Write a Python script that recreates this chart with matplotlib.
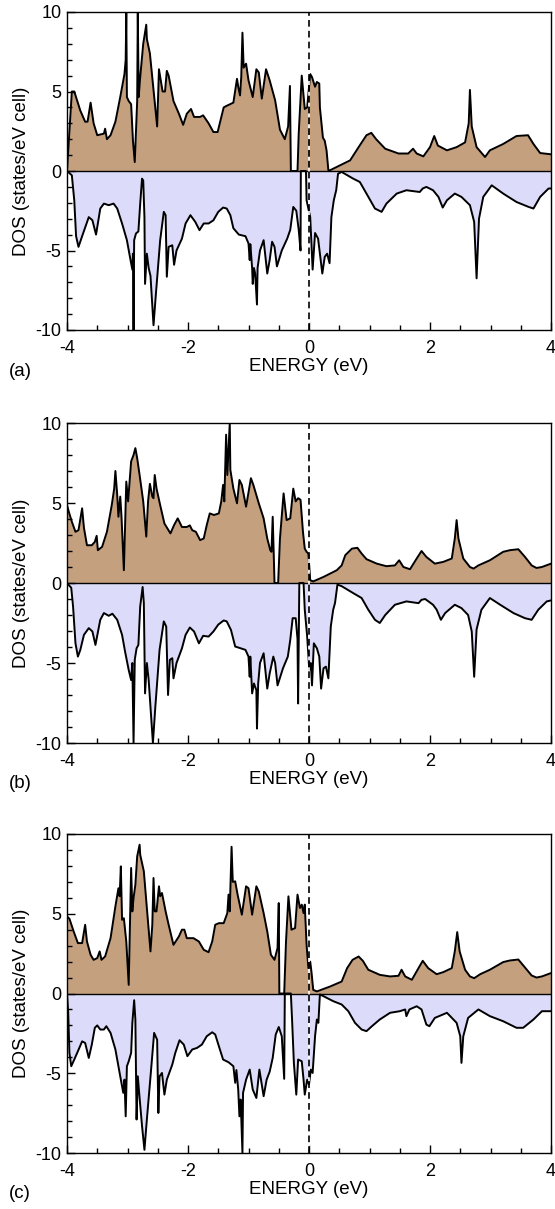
import numpy as np
import matplotlib
matplotlib.use('Agg')
import matplotlib.pyplot as plt
from matplotlib.ticker import MultipleLocator

plt.rcParams['font.family'] = ['Liberation Sans', 'DejaVu Sans']
plt.rcParams['axes.unicode_minus'] = False

# (energy eV, DOS states/eV cell) for each panel, majority (up) and minority (down) spin
a_up = [(-4.00, 0.0), (-3.96, 2.5), (-3.92, 5.0), (-3.88, 5.0), (-3.78, 3.8), (-3.70, 3.1),
        (-3.66, 3.1), (-3.61, 4.3), (-3.56, 3.0), (-3.50, 2.25), (-3.39, 2.35), (-3.37, 2.66),
        (-3.34, 2.0), (-3.28, 2.25), (-3.20, 3.1), (-3.12, 4.65), (-3.05, 6.1), (-3.03, 7.0),
        (-3.02, 10.0), (-3.01, 4.65), (-2.98, 4.4), (-2.94, 4.2), (-2.91, 1.9), (-2.88, 0.56),
        (-2.84, 4.4), (-2.83, 10.0), (-2.815, 4.65), (-2.79, 5.9), (-2.74, 8.0), (-2.69, 9.2),
        (-2.68, 8.3), (-2.63, 7.4), (-2.57, 5.1), (-2.51, 2.8), (-2.48, 6.4), (-2.45, 5.7),
        (-2.42, 5.0), (-2.38, 5.0), (-2.35, 6.3), (-2.32, 6.0), (-2.24, 4.4), (-2.15, 3.6),
        (-2.08, 2.9), (-2.02, 3.6), (-1.95, 3.9), (-1.90, 3.4), (-1.80, 3.4), (-1.75, 3.5),
        (-1.66, 3.0), (-1.58, 2.45), (-1.51, 2.45), (-1.41, 4.0), (-1.36, 4.1), (-1.25, 4.3),
        (-1.19, 5.8), (-1.17, 5.3), (-1.14, 4.75), (-1.12, 5.9), (-1.10, 8.7), (-1.08, 6.5),
        (-1.04, 6.75), (-1.00, 5.7), (-0.93, 4.65), (-0.87, 6.4), (-0.83, 6.2), (-0.78, 4.55),
        (-0.71, 6.4), (-0.65, 5.7), (-0.56, 4.45), (-0.48, 2.6), (-0.40, 2.0), (-0.345, 2.8),
        (-0.315, 5.35), (-0.30, 0.0), (-0.19, 0.0), (-0.17, 2.35), (-0.12, 6.0), (-0.07, 3.9),
        (-0.03, 4.0), (0.02, 6.1), (0.05, 5.9), (0.10, 5.3), (0.13, 5.6), (0.17, 5.5),
        (0.18, 4.0), (0.23, 2.1), (0.26, 1.9), (0.29, 1.3), (0.32, 0.05), (0.35, 0.05),
        (0.68, 0.67), (0.82, 1.5), (0.95, 2.25), (1.03, 2.4), (1.11, 2.0), (1.26, 1.4),
        (1.48, 1.1), (1.64, 1.1), (1.72, 1.4), (1.78, 1.1), (1.89, 0.92), (2.00, 1.5),
        (2.07, 2.2), (2.13, 1.6), (2.28, 1.3), (2.44, 1.5), (2.58, 1.8), (2.64, 3.0),
        (2.66, 5.1), (2.69, 2.8), (2.77, 1.5), (2.91, 0.88), (2.99, 1.3), (3.21, 1.7),
        (3.43, 2.2), (3.62, 2.25), (3.71, 1.7), (3.82, 1.13), (4.00, 1.05)]

a_dn = [(-4.00, 0.0), (-3.92, -0.27), (-3.88, -1.84), (-3.85, -4.1), (-3.81, -4.77), (-3.75, -4.1),
        (-3.64, -2.9), (-3.58, -3.1), (-3.52, -4.0), (-3.45, -2.36), (-3.39, -2.05), (-3.31, -2.15),
        (-3.23, -2.05), (-3.17, -2.36), (-3.09, -3.3), (-3.01, -4.35), (-2.95, -5.6), (-2.92, -6.2),
        (-2.91, -5.2), (-2.90, -10.0), (-2.89, -4.35), (-2.86, -3.93), (-2.82, -3.8), (-2.79, -2.05),
        (-2.76, -0.48), (-2.74, -0.6), (-2.72, -2.9), (-2.71, -7.1), (-2.68, -5.2), (-2.65, -6.1),
        (-2.62, -6.6), (-2.57, -9.7), (-2.53, -7.7), (-2.46, -4.35), (-2.40, -2.57), (-2.37, -2.78),
        (-2.35, -6.65), (-2.32, -4.77), (-2.26, -4.67), (-2.23, -5.9), (-2.19, -5.0), (-2.10, -4.25),
        (-2.04, -3.3), (-1.96, -2.78), (-1.88, -3.2), (-1.81, -3.72), (-1.74, -3.3), (-1.66, -3.3),
        (-1.58, -3.1), (-1.50, -2.57), (-1.42, -2.3), (-1.36, -2.36), (-1.30, -2.78), (-1.25, -3.6),
        (-1.16, -4.0), (-1.05, -4.1), (-1.00, -4.56), (-0.98, -5.6), (-0.97, -4.6), (-0.94, -6.1),
        (-0.93, -7.1), (-0.91, -6.1), (-0.89, -6.45), (-0.86, -8.4), (-0.85, -6.1), (-0.81, -5.0),
        (-0.75, -4.35), (-0.69, -6.45), (-0.65, -5.6), (-0.61, -4.45), (-0.57, -4.77), (-0.53, -6.0),
        (-0.45, -5.0), (-0.36, -4.25), (-0.31, -3.7), (-0.26, -2.26), (-0.21, -2.5), (-0.17, -3.7),
        (-0.14, -5.0), (-0.135, 0.0), (-0.05, 0.0), (-0.04, -1.84), (0.02, -2.9), (0.06, -6.2),
        (0.10, -3.9), (0.15, -4.25), (0.22, -6.45), (0.26, -5.4), (0.30, -5.2), (0.34, -5.8),
        (0.37, -2.9), (0.41, -1.84), (0.45, -1.2), (0.48, -0.17), (0.54, -0.06), (0.73, -0.48),
        (0.84, -0.69), (0.95, -1.42), (1.09, -2.36), (1.20, -2.57), (1.28, -2.05), (1.45, -1.42),
        (1.61, -1.21), (1.83, -1.32), (1.88, -1.1), (1.94, -1.0), (2.05, -1.21), (2.14, -1.63),
        (2.21, -2.3), (2.28, -1.84), (2.41, -1.42), (2.52, -1.63), (2.66, -2.15), (2.73, -3.2),
        (2.77, -6.75), (2.81, -3.0), (2.88, -1.63), (3.02, -0.9), (3.21, -1.42), (3.43, -1.95),
        (3.63, -2.26), (3.71, -2.36), (3.82, -1.63), (3.96, -1.1), (4.00, -1.1)]

b_up = [(-4.00, 4.87), (-3.97, 4.45), (-3.92, 3.83), (-3.86, 3.2), (-3.81, 3.3), (-3.75, 4.67),
        (-3.72, 3.45), (-3.67, 2.36), (-3.59, 2.36), (-3.54, 2.57), (-3.51, 2.95), (-3.49, 2.05),
        (-3.42, 2.26), (-3.34, 3.2), (-3.26, 4.87), (-3.22, 5.9), (-3.20, 7.0), (-3.17, 5.5),
        (-3.15, 4.14), (-3.12, 5.4), (-3.10, 4.2), (-3.06, 0.8), (-3.02, 6.34), (-2.99, 5.1),
        (-2.97, 6.1), (-2.94, 7.6), (-2.90, 8.0), (-2.87, 8.43), (-2.84, 7.8), (-2.80, 6.75),
        (-2.74, 5.1), (-2.69, 2.9), (-2.66, 5.1), (-2.63, 6.2), (-2.59, 5.4), (-2.57, 5.3),
        (-2.55, 6.75), (-2.52, 5.9), (-2.46, 4.87), (-2.39, 3.72), (-2.29, 3.1), (-2.23, 3.62),
        (-2.17, 4.04), (-2.10, 3.5), (-2.02, 3.5), (-1.97, 3.6), (-1.93, 3.3), (-1.87, 3.2),
        (-1.80, 2.68), (-1.74, 2.78), (-1.69, 3.62), (-1.64, 4.35), (-1.57, 4.25), (-1.49, 4.35),
        (-1.45, 5.1), (-1.42, 6.13), (-1.40, 5.1), (-1.37, 9.27), (-1.35, 6.75), (-1.31, 10.0),
        (-1.30, 7.07), (-1.25, 5.9), (-1.19, 4.98), (-1.15, 6.44), (-1.11, 6.13), (-1.04, 4.77),
        (-0.96, 6.55), (-0.92, 6.13), (-0.83, 4.98), (-0.75, 4.04), (-0.69, 2.78), (-0.64, 2.05),
        (-0.62, 1.95), (-0.60, 4.14), (-0.57, 0.0), (-0.51, 0.0), (-0.48, 2.78), (-0.42, 5.6),
        (-0.37, 3.93), (-0.31, 4.04), (-0.26, 5.9), (-0.22, 5.1), (-0.18, 5.3), (-0.14, 5.2),
        (-0.10, 3.2), (-0.07, 2.15), (-0.04, 1.95), (-0.01, 1.84), (0.02, 0.17), (0.07, 0.1),
        (0.24, 0.38), (0.46, 0.8), (0.54, 1.1), (0.60, 1.74), (0.71, 2.15), (0.80, 2.2),
        (0.87, 1.84), (0.95, 1.49), (1.12, 1.21), (1.28, 1.05), (1.42, 1.1), (1.49, 1.42),
        (1.56, 1.0), (1.67, 0.86), (1.78, 1.53), (1.86, 2.0), (1.94, 1.63), (2.08, 1.21),
        (2.22, 1.32), (2.36, 1.53), (2.41, 2.78), (2.44, 3.93), (2.47, 2.78), (2.55, 1.53),
        (2.66, 1.0), (2.72, 0.9), (2.80, 1.1), (2.99, 1.42), (3.21, 1.95), (3.32, 2.05),
        (3.46, 2.11), (3.57, 1.63), (3.68, 1.1), (3.76, 0.94), (3.85, 1.0), (4.00, 1.21)]

b_dn = [(-4.00, 0.0), (-3.93, -0.3), (-3.90, -1.46), (-3.86, -3.77), (-3.82, -4.6), (-3.78, -4.18),
        (-3.72, -3.24), (-3.64, -2.82), (-3.58, -3.03), (-3.53, -3.87), (-3.45, -2.3), (-3.39, -1.88),
        (-3.31, -2.05), (-3.25, -1.92), (-3.17, -2.3), (-3.09, -3.24), (-3.04, -4.29), (-2.98, -5.44),
        (-2.94, -6.07), (-2.92, -5.0), (-2.90, -10.0), (-2.88, -4.8), (-2.85, -4.08), (-2.82, -3.87),
        (-2.79, -1.46), (-2.75, -0.25), (-2.73, -1.25), (-2.71, -6.9), (-2.68, -5.0), (-2.65, -6.07),
        (-2.58, -10.0), (-2.54, -7.74), (-2.47, -4.18), (-2.40, -2.4), (-2.36, -2.72), (-2.33, -7.0),
        (-2.30, -4.8), (-2.26, -4.7), (-2.24, -5.96), (-2.19, -5.0), (-2.10, -4.08), (-2.04, -3.24),
        (-1.97, -2.78), (-1.90, -3.03), (-1.82, -3.77), (-1.75, -3.3), (-1.66, -3.35), (-1.58, -3.03),
        (-1.50, -2.6), (-1.41, -2.34), (-1.36, -2.4), (-1.29, -2.93), (-1.22, -3.97), (-1.13, -4.08),
        (-1.05, -4.18), (-1.00, -4.6), (-0.98, -5.86), (-0.97, -4.6), (-0.94, -6.9), (-0.91, -6.28),
        (-0.87, -6.7), (-0.86, -9.1), (-0.84, -6.28), (-0.81, -5.0), (-0.75, -4.39), (-0.69, -6.6),
        (-0.65, -5.65), (-0.59, -4.6), (-0.56, -5.0), (-0.52, -6.4), (-0.43, -5.33), (-0.35, -4.6),
        (-0.31, -3.56), (-0.27, -2.2), (-0.22, -2.2), (-0.19, -3.5), (-0.18, -7.53), (-0.16, 0.0),
        (-0.09, 0.0), (-0.07, -1.67), (-0.03, -3.35), (0.005, -5.44), (0.03, -5.0), (0.05, -6.4),
        (0.08, -3.77), (0.13, -4.08), (0.17, -4.6), (0.20, -6.6), (0.24, -5.33), (0.28, -5.23),
        (0.32, -5.96), (0.36, -2.72), (0.40, -1.67), (0.43, -1.25), (0.47, -0.1), (0.54, -0.2),
        (0.73, -0.63), (0.87, -0.94), (0.98, -1.67), (1.09, -2.3), (1.17, -2.5), (1.26, -2.0),
        (1.42, -1.36), (1.61, -1.15), (1.81, -1.26), (1.86, -1.05), (1.92, -1.0), (2.05, -1.36),
        (2.11, -1.67), (2.18, -2.3), (2.25, -1.88), (2.41, -1.36), (2.52, -1.57), (2.63, -2.0),
        (2.69, -3.03), (2.73, -5.86), (2.77, -2.9), (2.85, -1.67), (2.99, -0.94), (3.16, -1.36),
        (3.38, -1.88), (3.57, -2.2), (3.68, -2.3), (3.79, -1.67), (3.93, -1.15), (4.00, -1.09)]

c_up = [(-4.00, 4.83), (-3.96, 4.69), (-3.89, 3.89), (-3.82, 3.16), (-3.75, 3.16), (-3.70, 4.31),
        (-3.67, 3.26), (-3.61, 2.43), (-3.56, 2.11), (-3.50, 2.22), (-3.46, 2.64), (-3.43, 2.11),
        (-3.37, 2.32), (-3.28, 3.47), (-3.20, 5.46), (-3.15, 6.6), (-3.13, 6.1), (-3.11, 7.97),
        (-3.09, 4.62), (-3.06, 4.72), (-3.02, 3.26), (-2.98, 0.54), (-2.94, 7.87), (-2.92, 5.15),
        (-2.90, 5.98), (-2.87, 6.82), (-2.84, 8.6), (-2.80, 9.33), (-2.79, 8.7), (-2.73, 7.66),
        (-2.68, 5.36), (-2.62, 2.64), (-2.59, 4.3), (-2.57, 7.24), (-2.55, 5.15), (-2.52, 5.15),
        (-2.48, 6.72), (-2.46, 6.1), (-2.43, 6.3), (-2.37, 5.15), (-2.32, 4.31), (-2.24, 3.05),
        (-2.15, 3.58), (-2.10, 4.0), (-2.06, 4.0), (-2.02, 3.47), (-1.91, 3.47), (-1.82, 3.26),
        (-1.74, 2.74), (-1.66, 2.59), (-1.60, 3.26), (-1.55, 4.31), (-1.49, 4.41), (-1.41, 4.41),
        (-1.35, 5.04), (-1.33, 6.2), (-1.31, 5.15), (-1.28, 9.2), (-1.26, 7.0), (-1.22, 7.03),
        (-1.18, 6.2), (-1.11, 4.94), (-1.04, 6.72), (-1.00, 6.6), (-0.94, 4.94), (-0.87, 6.72),
        (-0.83, 6.4), (-0.75, 5.04), (-0.69, 3.89), (-0.63, 2.43), (-0.57, 2.11), (-0.52, 2.85),
        (-0.50, 5.67), (-0.49, 0.0), (-0.41, 0.0), (-0.38, 3.26), (-0.34, 6.09), (-0.29, 4.0),
        (-0.23, 4.1), (-0.19, 6.2), (-0.15, 5.36), (-0.12, 5.57), (-0.09, 5.04), (-0.07, 5.57),
        (-0.04, 3.05), (-0.01, 1.59), (0.02, 2.0), (0.04, 1.38), (0.07, 0.23), (0.13, 0.13),
        (0.35, 0.44), (0.54, 0.75), (0.63, 1.59), (0.72, 2.11), (0.82, 2.32), (0.89, 2.05),
        (0.98, 1.49), (1.17, 1.17), (1.34, 1.07), (1.48, 1.11), (1.53, 1.49), (1.59, 1.07),
        (1.70, 0.86), (1.81, 1.59), (1.88, 2.05), (1.97, 1.59), (2.11, 1.21), (2.22, 1.34),
        (2.36, 1.59), (2.41, 2.64), (2.45, 3.85), (2.49, 2.64), (2.58, 1.49), (2.66, 1.07),
        (2.73, 0.96), (2.83, 1.21), (2.99, 1.49), (3.21, 1.97), (3.32, 2.07), (3.46, 2.13),
        (3.57, 1.63), (3.68, 1.13), (3.76, 1.0), (3.85, 1.07), (4.00, 1.28)]

c_dn = [(-4.00, 0.0), (-3.98, -1.2), (-3.96, -3.72), (-3.93, -4.56), (-3.88, -4.14), (-3.82, -3.62),
        (-3.75, -3.0), (-3.70, -3.1), (-3.64, -4.04), (-3.59, -3.2), (-3.54, -2.15), (-3.50, -2.0),
        (-3.45, -2.26), (-3.39, -2.26), (-3.35, -2.05), (-3.28, -2.47), (-3.20, -3.51), (-3.12, -5.19),
        (-3.07, -6.23), (-3.05, -5.4), (-3.03, -7.7), (-3.01, -4.56), (-2.98, -4.25), (-2.94, -3.72),
        (-2.92, -1.85), (-2.89, -0.42), (-2.87, -1.63), (-2.85, -7.9), (-2.83, -5.19), (-2.80, -6.55),
        (-2.76, -8.3), (-2.72, -9.8), (-2.68, -7.9), (-2.61, -4.77), (-2.56, -2.47), (-2.51, -2.9),
        (-2.49, -7.49), (-2.47, -5.19), (-2.43, -4.98), (-2.39, -6.34), (-2.35, -5.4), (-2.26, -4.46),
        (-2.21, -3.72), (-2.14, -2.93), (-2.07, -3.2), (-2.01, -3.93), (-1.93, -3.51), (-1.85, -3.41),
        (-1.77, -3.2), (-1.69, -2.68), (-1.60, -2.43), (-1.55, -2.57), (-1.49, -3.3), (-1.42, -4.14),
        (-1.33, -4.31), (-1.25, -4.56), (-1.22, -5.6), (-1.20, -4.8), (-1.17, -6.02), (-1.15, -7.7),
        (-1.13, -6.65), (-1.10, -10.0), (-1.09, -6.23), (-1.04, -5.4), (-0.98, -4.77), (-0.93, -6.02),
        (-0.87, -6.55), (-0.82, -4.77), (-0.75, -6.44), (-0.70, -5.4), (-0.65, -4.9), (-0.60, -4.04),
        (-0.55, -2.57), (-0.50, -2.1), (-0.45, -2.68), (-0.41, -5.35), (-0.40, 0.0), (-0.30, 0.0),
        (-0.28, -1.63), (-0.25, -4.35), (-0.21, -6.34), (-0.18, -4.14), (-0.12, -4.25), (-0.09, -5.4),
        (-0.07, -6.34), (-0.03, -5.4), (0.00, -5.7), (0.03, -4.77), (0.06, -4.98), (0.10, -2.68),
        (0.13, -1.63), (0.155, -1.84), (0.18, -0.06), (0.24, -0.17), (0.40, -0.48), (0.54, -0.69),
        (0.65, -1.11), (0.76, -1.84), (0.87, -2.26), (0.95, -2.36), (1.04, -2.05), (1.17, -1.63),
        (1.34, -1.21), (1.50, -1.11), (1.59, -1.0), (1.61, -1.42), (1.66, -1.0), (1.78, -0.8),
        (1.86, -1.0), (1.94, -1.95), (1.99, -2.05), (2.08, -1.53), (2.28, -1.21), (2.44, -1.84),
        (2.50, -2.68), (2.52, -4.35), (2.55, -2.68), (2.63, -1.53), (2.80, -1.0), (2.99, -1.42),
        (3.21, -1.74), (3.43, -2.15), (3.54, -2.15), (3.71, -1.63), (3.85, -1.11), (4.00, -1.11)]

panel_labels = ["(a)", "(b)", "(c)"]

UP_COLOR = '#c4a07f'
DN_COLOR = '#dcdcfa'

W, H = 555, 1209
fig = plt.figure(figsize=(W / 100, H / 100), dpi=100)

# pixel extents (top, bottom) of each panel
frames = [(12, 330), (423, 743), (834, 1153)]

for (top, bot), lab, up, dn in zip(frames, panel_labels, [a_up, b_up, c_up], [a_dn, b_dn, c_dn]):
    ax = fig.add_axes([67 / W, 1 - bot / H, 484 / W, (bot - top) / H])

    e, d = np.array(up).T
    ax.fill_between(e, d, 0, color=UP_COLOR, lw=0)
    ax.plot(e, d, color='k', lw=1.4, solid_joinstyle='round')
    e, d = np.array(dn).T
    ax.fill_between(e, d, 0, color=DN_COLOR, lw=0)
    ax.plot(e, d, color='k', lw=1.4, solid_joinstyle='round')

    ax.axhline(0, color='k', lw=1.0)
    ax.axvline(0, color='k', lw=1.2, ls=(0, (4, 2.5)), gapcolor='white')

    ax.set_xlim(-4, 4)
    ax.set_ylim(-10, 10)
    ax.set_xticks([-4, -2, 0, 2, 4])
    ax.set_yticks([-10, -5, 0, 5, 10])
    ax.xaxis.set_minor_locator(MultipleLocator(0.5))
    ax.yaxis.set_minor_locator(MultipleLocator(1))
    ax.tick_params(which='both', direction='in', labelsize=13, width=1.0)
    ax.tick_params(which='major', length=6)
    ax.tick_params(which='minor', length=3.5)
    ax.tick_params(axis='x', pad=7)
    ax.tick_params(axis='y', pad=4)
    for s in ax.spines.values():
        s.set_linewidth(1.0)

    ax.set_xlabel('ENERGY (eV)', fontsize=13.5, labelpad=1)
    ax.set_ylabel('DOS (states/eV cell)', fontsize=13.5, labelpad=4)
    fig.text(9 / W, 1 - (bot + 41) / H, lab, fontsize=13.5, va='center')

fig.savefig('out.png', dpi=100)
